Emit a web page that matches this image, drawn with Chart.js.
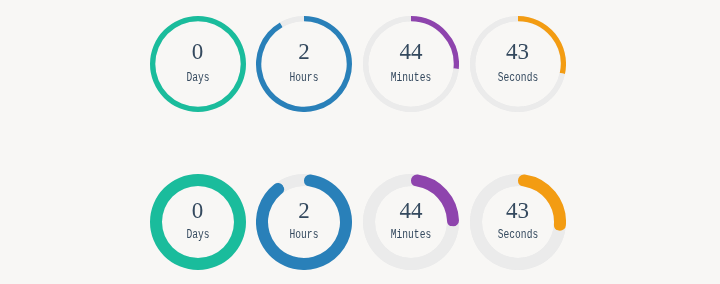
<!DOCTYPE html>
<html>
<head>
<meta charset="utf-8">
<script src="https://cdn.jsdelivr.net/npm/chart.js@4"></script>
<style>
  html, body { margin: 0; padding: 0; background: #f8f7f5; }
  #stage { position: relative; width: 720px; height: 284px; overflow: hidden; }
  .dial { position: absolute; width: 96px; height: 96px; }
  .dial canvas { position: absolute; left: 0; top: 0; }
  .num { position: absolute; left: 0; width: 96px; text-align: center;
         font-family: "Liberation Serif", "DejaVu Serif", serif; font-size: 23px; color: #34495e; }
  .lbl { position: absolute; left: 0; width: 96px; text-align: center;
         font-family: "Liberation Mono", "DejaVu Sans Mono", monospace; font-size: 12px; color: #34495e;
         transform: scaleX(0.8); }
</style>
</head>
<body>
<div id="stage"></div>
<script>
const units = ['Days', 'Hours', 'Minutes', 'Seconds'];
const remaining = [0, 2, 44, 43];
const maxima = [365, 24, 60, 60];
const colors = ['#1abc9c', '#2980b9', '#8e44ad', '#f39c12'];
const trackColor = '#ebebeb';

const centersX = [197.5, 304, 411, 517.5];
const rows = [
    { cy: 63.5, cutout: '89%', rounded: false, numTop: 23, lblTop: 55 },
    { cy: 222, cutout: '75%', rounded: true, numTop: 24, lblTop: 54 }
];

// grey track under the arcs (shows behind rounded ends)
const trackPlugin = {
    id: 'track',
    beforeDatasetsDraw(chart) {
        const arc = chart.getDatasetMeta(0).data[0];
        if (!arc) return;
        const { x, y, innerRadius, outerRadius } = arc;
        const ctx = chart.ctx;
        ctx.save();
        ctx.beginPath();
        ctx.arc(x, y, outerRadius, 0, Math.PI * 2);
        ctx.arc(x, y, innerRadius, 0, Math.PI * 2, true);
        ctx.fillStyle = trackColor;
        ctx.fill('evenodd');
        ctx.restore();
    }
};

const stage = document.getElementById('stage');

rows.forEach(function(row) {
    units.forEach(function(unit, i) {
        const box = document.createElement('div');
        box.className = 'dial';
        box.style.left = (centersX[i] - 48) + 'px';
        box.style.top = (row.cy - 48) + 'px';

        const canvas = document.createElement('canvas');
        canvas.width = 96;
        canvas.height = 96;
        box.appendChild(canvas);

        const num = document.createElement('div');
        num.className = 'num';
        num.style.top = row.numTop + 'px';
        num.textContent = remaining[i];
        box.appendChild(num);

        const lbl = document.createElement('div');
        lbl.className = 'lbl';
        lbl.style.top = row.lblTop + 'px';
        lbl.textContent = unit;
        box.appendChild(lbl);

        stage.appendChild(box);

        const done = maxima[i] - remaining[i];
        new Chart(canvas.getContext('2d'), {
            type: 'doughnut',
            data: {
                labels: ['elapsed', 'left'],
                datasets: [{
                    data: [done, remaining[i]],
                    backgroundColor: [colors[i], trackColor],
                    borderWidth: 0,
                    borderRadius: function(c) {
                        if (!row.rounded || c.dataIndex !== 0 || remaining[i] === 0) return 0;
                        return 8;
                    }
                }]
            },
            options: {
                responsive: false,
                animation: false,
                cutout: row.cutout,
                layout: { padding: 0 },
                plugins: {
                    legend: { display: false },
                    tooltip: { enabled: false }
                }
            },
            plugins: [trackPlugin]
        });
    });
});
</script>
</body>
</html>
